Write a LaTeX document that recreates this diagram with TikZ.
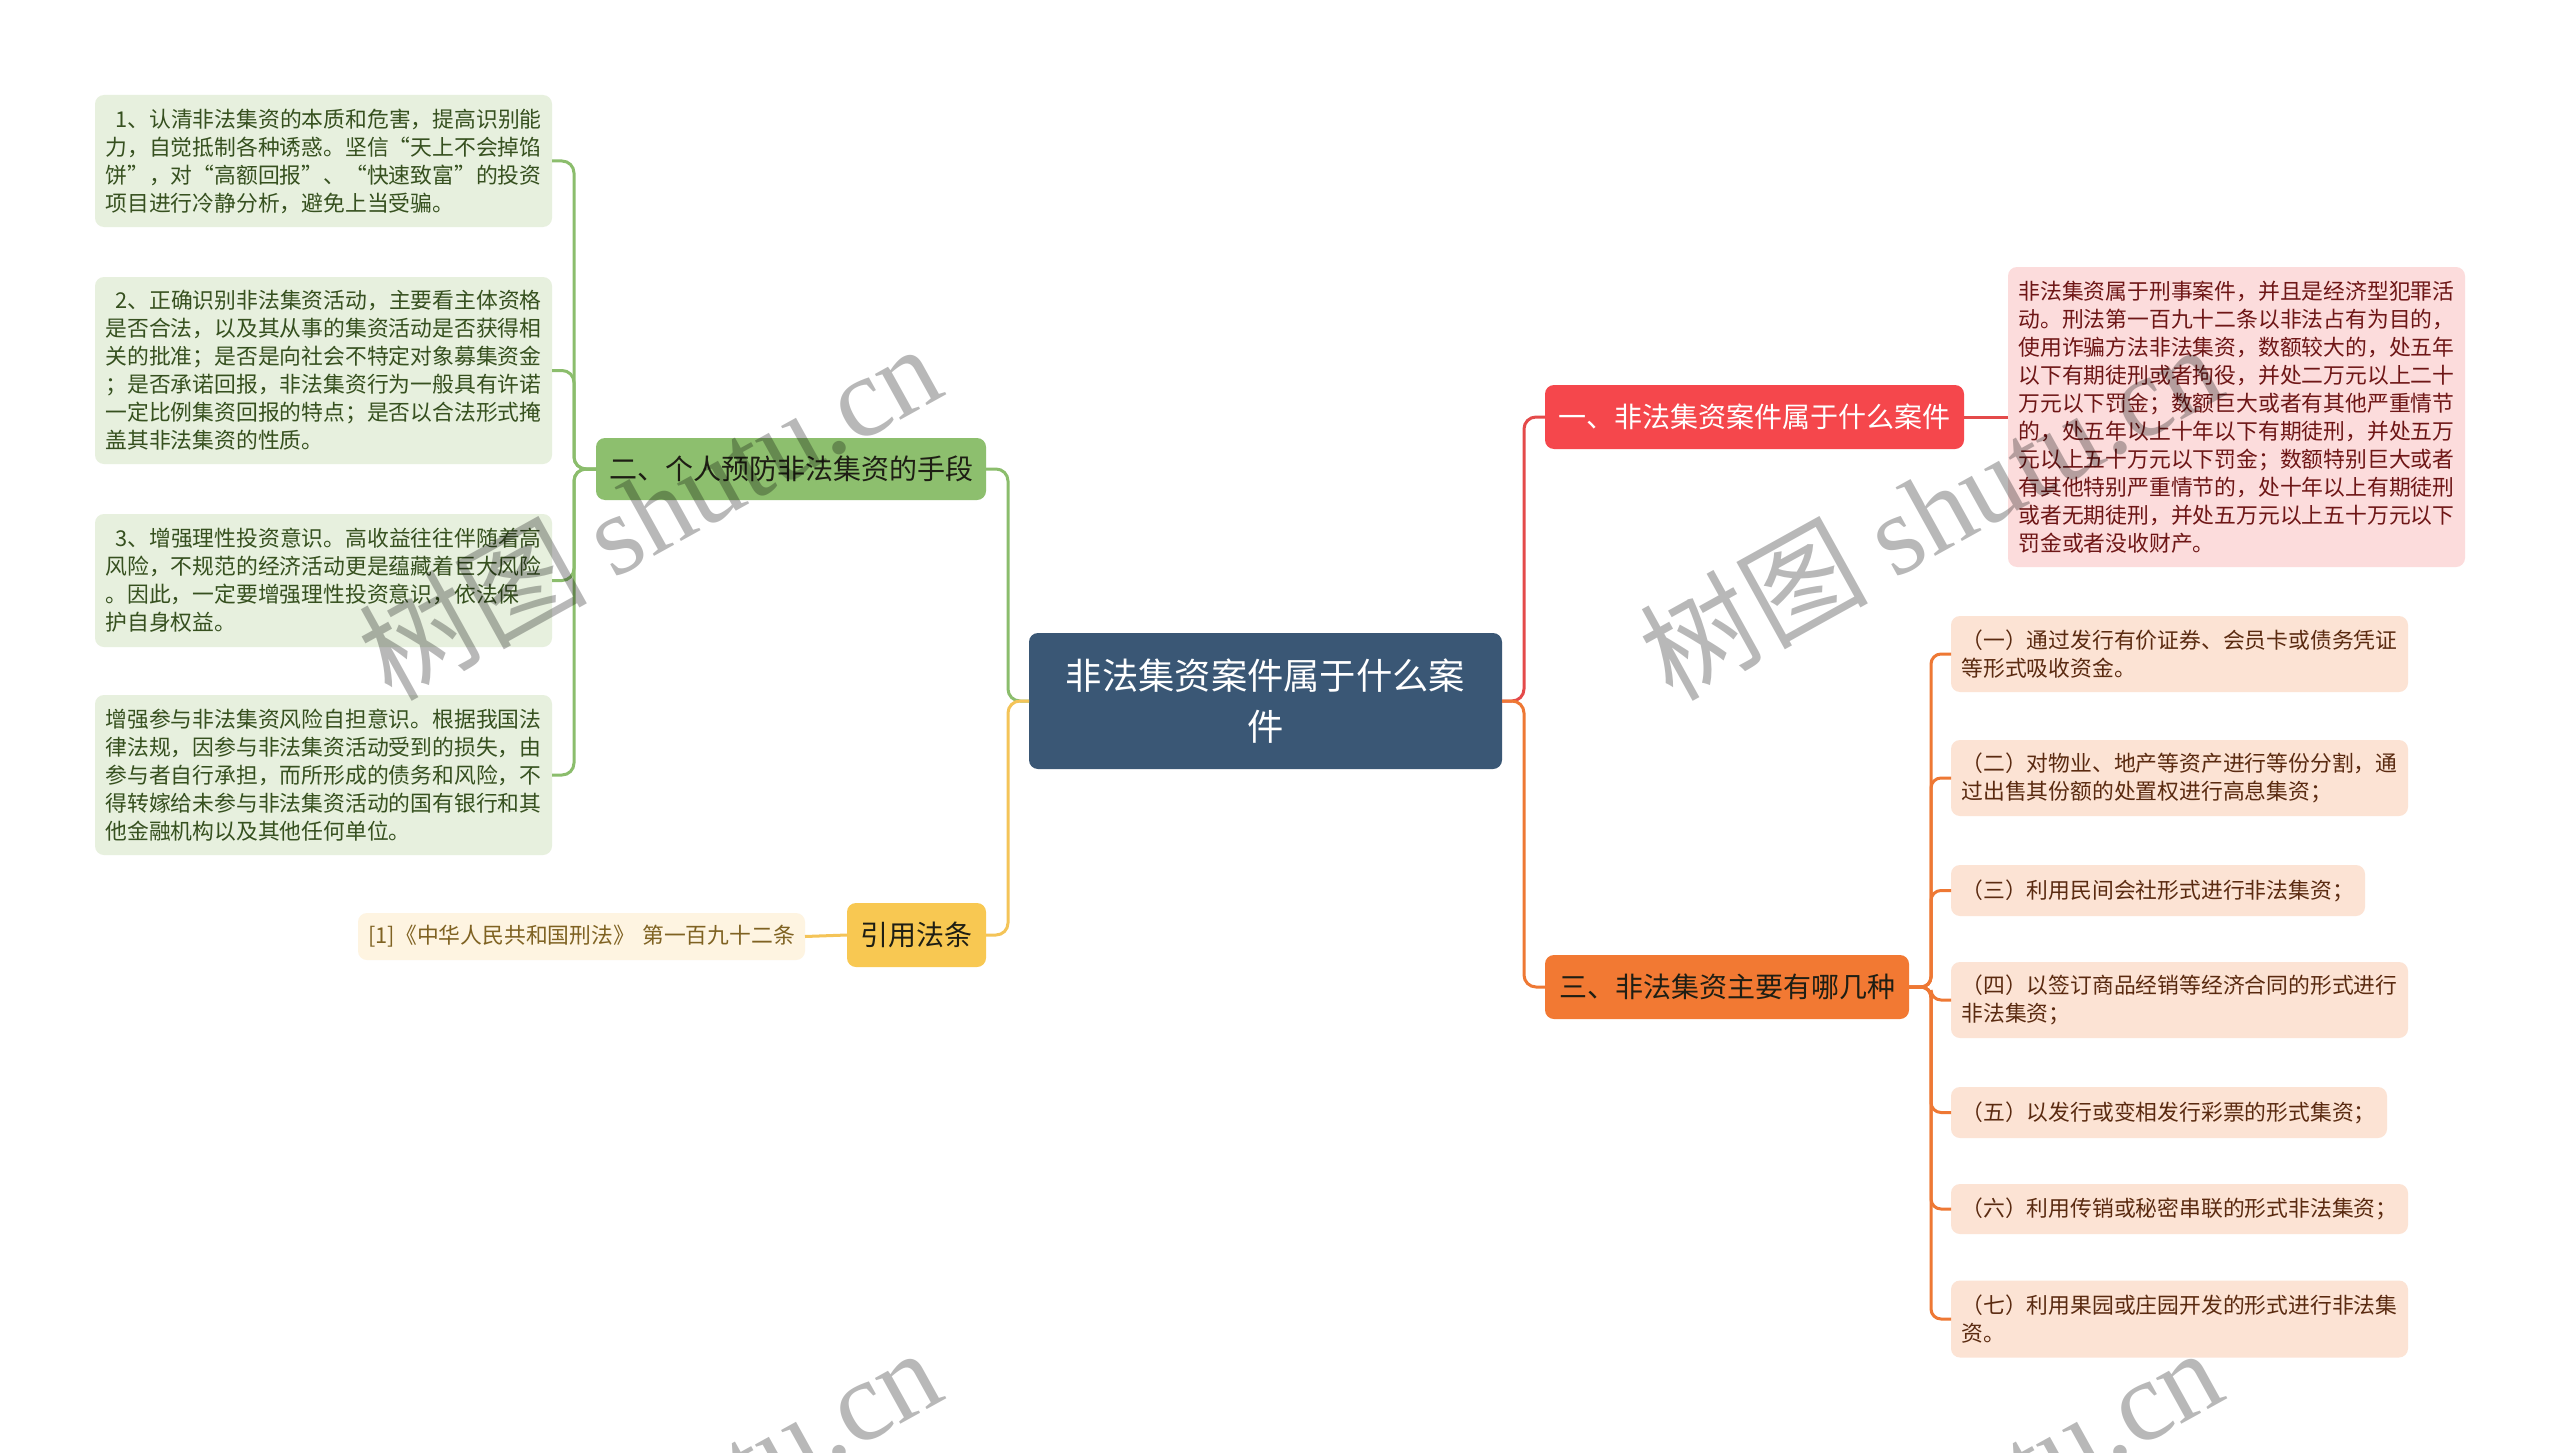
\documentclass[tikz,border=0pt]{standalone}
\usepackage{fontspec}
\setmainfont{Noto Sans CJK SC}
\newfontfamily\wmlatin{Liberation Serif}
\newfontfamily\wmcjk{Noto Sans CJK SC}
\definecolor{cenc}{HTML}{3A5775}
\definecolor{redc}{HTML}{F5474C}
\definecolor{redline}{HTML}{E44A4A}
\definecolor{rleafc}{HTML}{FCDCDC}
\definecolor{rleaft}{HTML}{6E1616}
\definecolor{orc}{HTML}{F27933}
\definecolor{orline}{HTML}{EE7834}
\definecolor{oleafc}{HTML}{FCE3D4}
\definecolor{oleaft}{HTML}{5A2A10}
\definecolor{grc}{HTML}{8DBF6E}
\definecolor{grline}{HTML}{8BBD6C}
\definecolor{gleafc}{HTML}{E7F0DE}
\definecolor{gleaft}{HTML}{36501F}
\definecolor{yec}{HTML}{F8C852}
\definecolor{yeline}{HTML}{F4C458}
\definecolor{cleafc}{HTML}{FEF4E1}
\definecolor{cleaft}{HTML}{7F6222}
\definecolor{darkt}{HTML}{1E1E14}
\begin{document}
\begin{tikzpicture}[x=1pt,y=-1pt,
  base/.style={rounded corners=9pt, inner sep=0pt, outer sep=0pt},
  leafs/.style={base, align=left, inner xsep=10.5pt, font=\fontsize{21.8}{28}\selectfont},
  gleaf/.style={leafs, fill=gleafc, text=gleaft, text width=436pt},
  rleaf/.style={leafs, fill=rleafc, text=rleaft, text width=436pt},
  oleaf/.style={leafs, fill=oleafc, text=oleaft},
  branch/.style={base, align=center, font=\fontsize{28}{34}\selectfont, minimum height=64pt},
  conn/.style={line width=3pt, rounded corners=12pt},
  wm/.style={rotate=29, text=black, opacity=0.28, font=\fontsize{114}{114}\selectfont, inner sep=0pt}
]
\useasboundingbox (0,0) rectangle (2560,1453);
\fill[white] (0,0) rectangle (2560,1453);

% central
\node[base, fill=cenc, text=white, align=center, text width=440pt,
      minimum width=473pt, minimum height=136pt,
      font=\fontsize{36.3}{51}\selectfont] (cen) at (1265.5,701)
  {非法集资案件属于什么案\\件};

% branches
\node[branch, fill=redc, text=white, minimum width=419pt] (b1) at (1754.5,417) {一、非法集资案件属于什么案件};
\node[branch, fill=grc, text=darkt, minimum width=390pt, minimum height=62pt] (b2) at (791,469) {二、个人预防非法集资的手段};
\node[branch, fill=orc, text=darkt, minimum width=364pt] (b3) at (1727,987) {三、非法集资主要有哪几种};
\node[branch, fill=yec, text=darkt, minimum width=139pt] (b4) at (916.5,935) {引用法条};

% red leaf
\node[rleaf, minimum height=300pt] (l1) at (2236.5,417)
 {非法集资属于刑事案件，并且是经济型犯罪活\\
  动。刑法第一百九十二条以非法占有为目的，\\
  使用诈骗方法非法集资，数额较大的，处五年\\
  以下有期徒刑或者拘役，并处二万元以上二十\\
  万元以下罚金；数额巨大或者有其他严重情节\\
  的，处五年以上十年以下有期徒刑，并处五万\\
  元以上五十万元以下罚金；数额特别巨大或者\\
  有其他特别严重情节的，处十年以上有期徒刑\\
  或者无期徒刑，并处五万元以上五十万元以下\\
  罚金或者没收财产。};

% green leaves
\node[gleaf, minimum height=132pt] (g1) at (323.5,161)
 {\hspace*{0.45em}1、认清非法集资的本质和危害，提高识别能\\
  力，自觉抵制各种诱惑。坚信“天上不会掉馅\\
  饼”，对“高额回报”、“快速致富”的投资\\
  项目进行冷静分析，避免上当受骗。};
\node[gleaf, minimum height=187pt] (g2) at (323.5,370.5)
 {\hspace*{0.45em}2、正确识别非法集资活动，主要看主体资格\\
  是否合法，以及其从事的集资活动是否获得相\\
  关的批准；是否是向社会不特定对象募集资金\\
  ；是否承诺回报，非法集资行为一般具有许诺\\
  一定比例集资回报的特点；是否以合法形式掩\\
  盖其非法集资的性质。};
\node[gleaf, minimum height=133pt] (g3) at (323.5,580.5)
 {\hspace*{0.45em}3、增强理性投资意识。高收益往往伴随着高\\
  风险，不规范的经济活动更是蕴藏着巨大风险\\
  。因此，一定要增强理性投资意识，依法保\\
  护自身权益。};
\node[gleaf, minimum height=160pt] (g4) at (323.5,775)
 {增强参与非法集资风险自担意识。根据我国法\\
  律法规，因参与非法集资活动受到的损失，由\\
  参与者自行承担，而所形成的债务和风险，不\\
  得转嫁给未参与非法集资活动的国有银行和其\\
  他金融机构以及其他任何单位。};

% citation leaf
\node[leafs, fill=cleafc, text=cleaft, text width=426pt, minimum height=47pt] (cite) at (581.5,936.5)
 {\mbox{[1]《中华人民共和国刑法》 第一百九十二条}};

% orange leaves
\node[oleaf, text width=436pt, minimum height=76pt] (o1) at (2179.5,654)
 {（一）通过发行有价证券、会员卡或债务凭证\\等形式吸收资金。};
\node[oleaf, text width=436pt, minimum height=76pt] (o2) at (2179.5,778)
 {（二）对物业、地产等资产进行等份分割，通\\过出售其份额的处置权进行高息集资；};
\node[oleaf, text width=393pt, minimum height=51pt] (o3) at (2158,890.5)
 {（三）利用民间会社形式进行非法集资；};
\node[oleaf, text width=436pt, minimum height=76pt] (o4) at (2179.5,1000)
 {（四）以签订商品经销等经济合同的形式进行\\非法集资；};
\node[oleaf, text width=415pt, minimum height=51pt] (o5) at (2169,1112.5)
 {（五）以发行或变相发行彩票的形式集资；};
\node[oleaf, text width=436pt, minimum height=50pt] (o6) at (2179.5,1209)
 {（六）利用传销或秘密串联的形式非法集资；};
\node[oleaf, text width=436pt, minimum height=77pt] (o7) at (2179.5,1319)
 {（七）利用果园或庄园开发的形式进行非法集\\资。};

% junctions
\coordinate (jl) at (1008,701);
\coordinate (jr) at (1524,701);
\coordinate (jg) at (574,469);
\coordinate (jo) at (1931,987);

% connectors
\draw[conn, draw=grline] (cen.west) -- (jl) |- (b2.east);
\draw[conn, draw=yeline] (cen.west) -- (jl) |- (b4.east);
\draw[conn, draw=redline] (cen.east) -- (jr) |- (b1.west);
\draw[conn, draw=orline] (cen.east) -- (jr) |- (b3.west);
\draw[conn, draw=redline] (b1.east) -- (l1.west);
\draw[conn, draw=yeline] (b4.west) -- (cite.east);
\foreach \g in {g1,g2,g3,g4}
  \draw[conn, draw=grline] (b2.west) -- (jg) |- (\g.east);
\foreach \o in {o1,o2,o3,o4,o5,o6,o7}
  \draw[conn, draw=orline, rounded corners=10pt] (b3.east) -- (jo) |- (\o.west);

% watermarks
\begin{scope}
\clip (0,0) rectangle (2560,1453);
\node[wm] (w1) at (649,510) {\wmcjk 树图 {\wmlatin shutu.cn}};
\node[wm] (w2) at (1930,510) {\wmcjk 树图 {\wmlatin shutu.cn}};
\node[wm] (w3) at (649,1514) {\wmcjk 树图 {\wmlatin shutu.cn}};
\node[wm] (w4) at (1930,1514) {\wmcjk 树图 {\wmlatin shutu.cn}};
\end{scope}
\end{tikzpicture}
\end{document}
